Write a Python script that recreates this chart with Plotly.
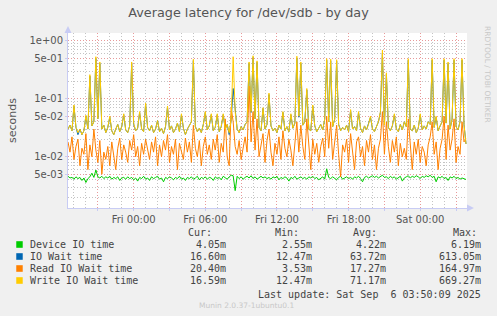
import plotly.graph_objects as go
import pandas as pd

# ---------------- data (milliseconds, 10-minute steps) ----------------
start_time = "2025-09-04 18:30"
step = "10min"

device_ms = [
    4.6, 4.3, 4.4, 4.1, 4.5, 4.2, 4.4, 3.9, 4.3, 3.6,
    4.2, 4.5, 5.2, 4.4, 5.9, 4.5, 4.3, 4.6, 4.2, 4.5,
    4.3, 4.6, 4.1, 4.4, 4.2, 4.5, 3.9, 4.3, 4.4, 4.1,
    4.5, 4.2, 4.4, 4.0, 4.3, 3.8, 4.4, 4.2, 4.6, 4.1,
    4.3, 3.9, 4.5, 4.2, 4.4, 4.6, 4.1, 4.3, 3.7, 4.4,
    4.2, 4.5, 4.3, 4.0, 4.4, 4.2, 4.6, 4.1, 4.3, 3.9,
    4.4, 4.2, 4.5, 4.1, 4.3, 4.6, 4.0, 4.4, 4.2, 4.5,
    4.1, 4.4, 4.3, 3.9, 4.5, 4.2, 4.4, 4.0, 4.6, 4.3,
    4.1, 4.5, 4.8, 4.7, 2.6, 4.6, 4.2, 4.5, 4.1, 4.4,
    4.6, 4.3, 4.7, 4.2, 4.5, 4.1, 4.4, 4.6, 4.3, 4.5,
    4.2, 4.4, 4.1, 4.5, 4.3, 4.6, 4.0, 4.4, 4.2, 4.5,
    4.3, 3.8, 4.4, 4.2, 4.6, 4.1, 4.3, 4.5, 4.2, 4.4,
    4.1, 4.5, 4.3, 4.6, 4.2, 4.4, 4.0, 4.3, 4.5, 4.1,
    6.2, 4.4, 4.2, 4.5, 4.3, 4.0, 4.4, 4.6, 4.1, 4.3,
    4.5, 4.2, 4.4, 4.1, 4.5, 4.3, 4.6, 4.2, 3.7, 4.4,
    4.6, 4.3, 4.5, 4.7, 4.4, 4.6, 4.3, 4.5, 4.8, 4.4,
    4.5, 4.2, 4.6, 4.3, 4.5, 4.1, 4.4, 4.6, 3.8, 4.3,
    4.5, 4.7, 4.3, 4.6, 4.4, 4.7, 4.5, 4.2, 4.6, 4.4,
    4.7, 4.5, 4.8, 4.4, 4.6, 3.7, 4.5, 4.3, 4.6, 4.2,
    4.4, 3.9, 4.5, 4.3, 4.6, 4.2, 4.4, 4.1, 4.3, 4.2,
    4.05,
]

iowait_ms = [
    30, 35, 28, 74, 32, 24, 30, 24, 28, 50,
    30, 245, 34, 40, 495, 45, 405, 30, 35, 26,
    32, 48, 28, 24, 30, 36, 27, 33, 53, 29,
    26, 34, 410, 36, 28, 31, 58, 30, 27, 80,
    32, 28, 35, 26, 30, 42, 27, 31, 25, 33,
    72, 29, 34, 26, 30, 38, 27, 53, 31, 24,
    30, 35, 40, 455, 33, 27, 31, 26, 36, 58,
    29, 34, 53, 28, 32, 53, 27, 33, 53, 30,
    36, 24, 44, 150, 58, 30, 26, 33, 29, 36,
    40, 405, 58, 515, 45, 425, 32, 28, 68, 30,
    36, 118, 34, 28, 31, 26, 35, 30, 58, 28,
    33, 27, 53, 31, 38, 505, 48, 405, 35, 40,
    142, 30, 28, 75, 34, 27, 31, 36, 29, 44,
    462, 40, 452, 33, 44, 445, 36, 28, 32, 29,
    35, 27, 63, 30, 33, 28, 58, 31, 26, 34,
    29, 36, 48, 30, 27, 33, 40, 58, 613, 35,
    265, 32, 28, 34, 53, 30, 27, 36, 29, 40,
    33, 462, 30, 28, 35, 26, 31, 53, 29, 34,
    30, 40, 36, 462, 32, 48, 28, 34, 40, 462,
    38, 405, 30, 44, 462, 33, 29, 40, 462, 36,
    16.6,
]

read_ms = [
    18, 12, 22, 9, 15, 20, 7, 14, 11, 25,
    6, 16, 10, 30, 13, 8, 19, 5, 12, 9,
    15, 7, 18, 11, 6, 14, 21, 9, 16, 12,
    8, 19, 13, 24, 10, 15, 7, 17, 11, 20,
    14, 9, 18, 12, 22, 7, 16, 10, 19, 13,
    24, 8, 15, 11, 20, 6, 17, 13, 9, 21,
    12, 18, 8, 35, 14, 10, 19, 7, 15, 22,
    11, 16, 9, 20, 13, 24, 8, 17, 12, 45,
    10, 7, 70, 40, 15, 11, 19, 9, 14, 22,
    12, 165, 18, 60, 13, 45, 10, 16, 25, 8,
    19, 30, 12, 7, 17, 11, 22, 9, 28, 14,
    10, 20, 13, 7, 18, 40, 12, 35, 15, 9,
    45, 13, 6, 20, 11, 17, 8, 15, 21, 10,
    50, 14, 40, 9, 18, 35, 11, 4.5, 16, 12,
    20, 8, 25, 13, 6, 18, 22, 10, 15, 7,
    19, 12, 24, 9, 16, 6, 14, 20, 60, 11,
    40, 15, 8, 19, 12, 22, 7, 17, 10, 14,
    9, 45, 13, 6, 18, 11, 20, 8, 15, 12,
    7, 16, 22, 40, 11, 18, 6, 14, 20, 50,
    9, 35, 13, 20, 45, 8, 15, 11, 40, 18,
    20.4,
]

write_ms = [
    30, 35, 28, 78, 32, 26, 30, 24, 28, 52,
    30, 260, 34, 40, 530, 45, 430, 30, 35, 26,
    32, 50, 28, 24, 30, 36, 27, 33, 55, 29,
    26, 34, 430, 38, 28, 31, 60, 30, 27, 84,
    32, 28, 35, 26, 30, 42, 27, 31, 25, 33,
    75, 29, 34, 26, 30, 38, 27, 55, 31, 24,
    30, 35, 40, 480, 33, 27, 31, 26, 36, 60,
    29, 34, 55, 28, 32, 55, 27, 33, 55, 30,
    36, 26, 45, 530, 60, 30, 26, 33, 29, 36,
    40, 430, 60, 550, 45, 450, 32, 28, 70, 30,
    36, 125, 34, 28, 31, 26, 35, 30, 60, 28,
    33, 27, 55, 31, 38, 540, 50, 430, 35, 40,
    150, 30, 28, 78, 34, 27, 31, 36, 29, 45,
    490, 40, 480, 33, 45, 470, 36, 28, 32, 29,
    35, 27, 65, 30, 33, 28, 60, 31, 26, 34,
    29, 36, 50, 30, 27, 33, 40, 60, 690, 35,
    280, 32, 28, 34, 55, 30, 27, 36, 29, 40,
    33, 490, 30, 28, 35, 26, 31, 55, 29, 34,
    30, 40, 36, 490, 32, 50, 28, 34, 40, 490,
    38, 430, 30, 45, 490, 33, 29, 40, 490, 36,
    16.59,
]

series_names = ["Device IO time", "IO Wait time", "Read IO Wait time", "Write IO Wait time"]
series_colors = ["#00cc00", "#0066b3", "#ff8000", "#ffcc00"]
cur_vals = ["4.05m", "16.60m", "20.40m", "16.59m"]
min_vals = ["2.55m", "12.47m", "3.53m", "12.47m"]
avg_vals = ["4.22m", "63.72m", "17.27m", "71.17m"]
max_vals = ["6.19m", "613.05m", "164.97m", "669.27m"]

y_tickvals = [1, 0.5, 0.1, 0.05, 0.01, 0.005]
y_ticktext = ["1e+00", "5e-01", "1e-01", "5e-02", "1e-02", "5e-03"]

x_ticks = pd.date_range("2025-09-04 21:00", "2025-09-06 03:00", freq="3h")
x_ticktext = ["" if t.hour % 6 else t.strftime("%a %H:%M") for t in x_ticks]
x_minor = pd.date_range("2025-09-04 19:00", "2025-09-06 03:00", freq="1h")

# ---------------- figure ----------------
W, H = 497, 316
L, R, T, B = 66, 467, 33, 208

times = pd.date_range(start_time, periods=len(write_ms), freq=step)

fig = go.Figure()
for name, color, vals in zip(series_names, series_colors,
                             [device_ms, iowait_ms, read_ms, write_ms]):
    fig.add_trace(go.Scatter(
        x=times, y=[v / 1000.0 for v in vals], mode="lines", name=name,
        line=dict(color=color, width=1), showlegend=False, hoverinfo="skip"))

minor_y = []
for e in [1e-3, 1e-2, 1e-1, 1.0]:
    for m in [2, 3, 4, 6, 7, 8, 9]:
        minor_y.append(m * e)

red_grid = "#e89a9a"
gray_grid = "#c4c4c4"
dash = "1px,2px"
axis_col = "#c8ccf4"

fig.update_layout(
    width=W, height=H,
    margin=dict(l=L, r=W - R, t=T, b=H - B),
    paper_bgcolor="#f0f0f0", plot_bgcolor="#ffffff",
    font=dict(family="DejaVu Sans", size=10, color="#555555"),
    title=dict(text="Average latency for /dev/sdb - by day", x=0.5, xanchor="center",
               y=1 - 12.5 / H, yanchor="middle",
               font=dict(family="DejaVu Sans", size=12.8, color="#555555")),
    xaxis=dict(
        range=["2025-09-04 18:30", "2025-09-06 03:55"],
        tickvals=list(x_ticks), ticktext=x_ticktext,
        showgrid=True, gridcolor=red_grid, griddash=dash, gridwidth=1,
        minor=dict(tickvals=list(x_minor), showgrid=True, gridcolor=gray_grid,
                   griddash=dash, gridwidth=1, ticks=""),
        ticks="outside", ticklen=2, tickcolor=axis_col,
        showline=True, linecolor=axis_col, linewidth=1,
        zeroline=False, tickfont=dict(size=10, color="#555555"),
    ),
    yaxis=dict(
        type="log", range=[-2.884, 0.133],
        tickvals=y_tickvals, ticktext=y_ticktext,
        showgrid=True, gridcolor=red_grid, griddash=dash, gridwidth=1,
        minor=dict(tickvals=minor_y, showgrid=True, gridcolor=gray_grid,
                   griddash=dash, gridwidth=1, ticks=""),
        ticks="outside", ticklen=2, tickcolor=axis_col,
        showline=True, linecolor=axis_col, linewidth=1,
        zeroline=False, tickfont=dict(size=10, color="#555555"),
        title=dict(text="seconds", font=dict(size=11, color="#555555"), standoff=10),
    ),
)


def px(xp):
    return (xp - L) / (R - L)


def py(yp):
    return (B - yp) / (B - T)


anns = []
shapes = []
mono = dict(family="DejaVu Sans Mono", size=10, color="#444444")

# header
for txt, xr in [("Cur:", 213), ("Min:", 300), ("Avg:", 379), ("Max:", 479)]:
    anns.append(dict(text=txt, x=px(xr), y=py(232.5), xanchor="right", yanchor="middle", font=mono))

rows_y = [244.5, 256.5, 268.5, 280.5]
for i, (name, col) in enumerate(zip(series_names, series_colors)):
    yy = rows_y[i]
    shapes.append(dict(type="rect", xref="paper", yref="paper",
                       x0=px(14), x1=px(20.5), y0=py(yy + 3.3), y1=py(yy - 3.3),
                       fillcolor=col, line=dict(width=0)))
    anns.append(dict(text=name, x=px(26), y=py(yy), xanchor="left", yanchor="middle", font=mono))
    anns.append(dict(text=cur_vals[i], x=px(226.5), y=py(yy), xanchor="right", yanchor="middle", font=mono))
    anns.append(dict(text=min_vals[i], x=px(313.5), y=py(yy), xanchor="right", yanchor="middle", font=mono))
    anns.append(dict(text=avg_vals[i], x=px(388), y=py(yy), xanchor="right", yanchor="middle", font=mono))
    anns.append(dict(text=max_vals[i], x=px(483), y=py(yy), xanchor="right", yanchor="middle", font=mono))

anns.append(dict(text="Last update: Sat Sep  6 03:50:09 2025".replace("  ", "&nbsp; "),
                 x=px(483), y=py(294), xanchor="right", yanchor="middle", font=mono))
anns.append(dict(text="Munin 2.0.37-1ubuntu0.1", x=px(245), y=py(305.5), xanchor="center",
                 yanchor="middle", font=dict(family="DejaVu Sans", size=7.5, color="#c8c8c8")))
anns.append(dict(text="RRDTOOL / TOBI OETIKER", x=px(488), y=py(75), xanchor="center",
                 yanchor="middle", textangle=90,
                 font=dict(family="DejaVu Sans", size=7.5, color="#c8c8c8")))

for a in anns:
    a.update(xref="paper", yref="paper", showarrow=False)

# axis arrows
shapes.append(dict(type="path", xref="paper", yref="paper",
                   path=f"M {px(62.5)},{py(33)} L {px(69.5)},{py(33)} L {px(66)},{py(26)} Z",
                   fillcolor=axis_col, line=dict(width=0)))
shapes.append(dict(type="path", xref="paper", yref="paper",
                   path=f"M {px(467)},{py(204.5)} L {px(467)},{py(211.5)} L {px(474)},{py(208)} Z",
                   fillcolor=axis_col, line=dict(width=0)))

fig.update_layout(annotations=anns, shapes=shapes)

fig.write_html("out.html")
